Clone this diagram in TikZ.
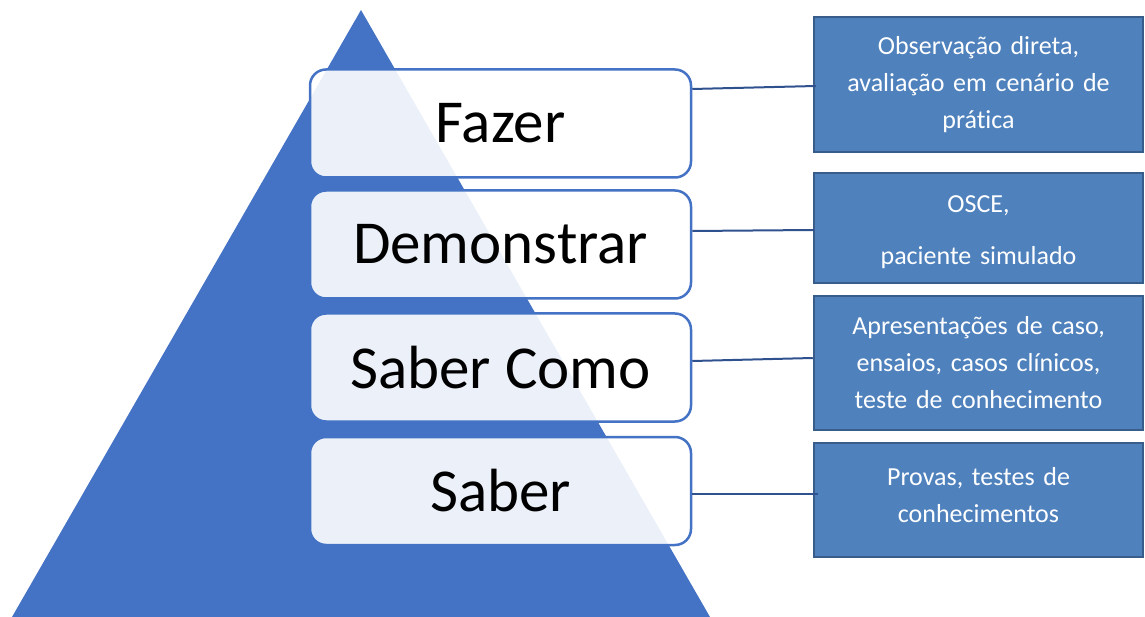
\documentclass[tikz,border=0pt]{standalone}
\usepackage{fontspec}
\setmainfont{Carlito}[RawFeature={-liga;-clig;-calt;-dlig}]
\definecolor{pyrblue}{RGB}{68,114,196}
\definecolor{toolfill}{RGB}{79,129,189}
\definecolor{tooledge}{RGB}{56,93,138}
\definecolor{linkblue}{RGB}{47,82,143}
\begin{document}
\begin{tikzpicture}[x=1pt,y=-1pt,
  level/.style={draw=pyrblue, line width=2.5pt, rounded corners=16pt,
    fill=white, fill opacity=0.9, text opacity=1,
    minimum width=381pt, minimum height=108pt, inner sep=0pt,
    font=\fontsize{61}{73}\selectfont},
  toolbox/.style={draw=tooledge, fill=toolfill, line width=2.5pt,
    text=white, align=center, text width=310pt, inner sep=0pt,
    minimum width=329pt, font=\fontsize{26}{37}\selectfont},
  linkline/.style={draw=linkblue, line width=2pt}]
\useasboundingbox (0,0) rectangle (1145,617);

% pyramid
\fill[pyrblue] (361,10) -- (710,617) -- (12,617) -- cycle;

% levels of the pyramid
\node[level] (fazer) at (500.5,123.5) {Fazer};
\node[level] (demo)  at (500.5,244.5) {Demonstrar};
\node[level] (como)  at (500.5,367.5) {Saber Como};
\node[level] (saber) at (500.5,491)   {Saber};

% assessment methods
\node[toolbox, minimum height=135pt] (obs) at (978.5,84.5)
  {Observação direta,\\avaliação em cenário de\\prática};
\node[toolbox, minimum height=110pt] (osce) at (978.5,228)
  {\rule{0pt}{26pt}OSCE,\\[15pt]paciente simulado};
\node[toolbox, minimum height=134pt] (casos) at (978.5,363)
  {Apresentações de caso,\\ensaios, casos clínicos,\\teste de conhecimento};
\node[toolbox, minimum height=114pt] (provas) at (978.5,500)
  {Provas, testes de\\conhecimentos\rule[-10pt]{0pt}{1pt}};

% connectors
\draw[linkline] ([yshift=34.5pt]fazer.east) -- ([xshift=3pt,yshift=-1.5pt]obs.west);
\draw[linkline] ([yshift=13.5pt]demo.east)  -- ([xshift=1pt,yshift=-2pt]osce.west);
\draw[linkline] ([yshift=6.5pt]como.east)   -- ([yshift=5pt]casos.west);
\draw[linkline] ([yshift=-3pt]saber.east)   -- ([xshift=5pt,yshift=6pt]provas.west);
\end{tikzpicture}
\end{document}
